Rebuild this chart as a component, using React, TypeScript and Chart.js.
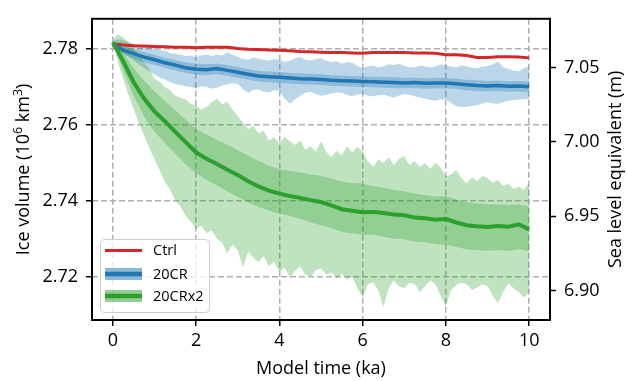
import React, { useEffect, useRef } from 'react';
import { Chart, registerables } from 'chart.js';

Chart.register(...registerables);

// ---------- data ----------
const time = [0, 0.25, 0.5, 0.75, 1, 1.25, 1.5, 1.75, 2, 2.25, 2.5, 2.75, 3, 3.25, 3.5, 3.75, 4, 4.25, 4.5, 4.75, 5,
  5.25, 5.5, 5.75, 6, 6.25, 6.5, 6.75, 7, 7.25, 7.5, 7.75, 8, 8.25, 8.5, 8.75, 9, 9.25, 9.5, 9.75, 10];

const timeFine = [0, 0.125, 0.25, 0.375, 0.5, 0.625, 0.75, 0.875, 1, 1.125, 1.25, 1.375, 1.5, 1.625, 1.75, 1.875,
  2, 2.125, 2.25, 2.375, 2.5, 2.625, 2.75, 2.875, 3, 3.125, 3.25, 3.375, 3.5, 3.625, 3.75, 3.875,
  4, 4.125, 4.25, 4.375, 4.5, 4.625, 4.75, 4.875, 5, 5.125, 5.25, 5.375, 5.5, 5.625, 5.75, 5.875,
  6, 6.125, 6.25, 6.375, 6.5, 6.625, 6.75, 6.875, 7, 7.125, 7.25, 7.375, 7.5, 7.625, 7.75, 7.875,
  8, 8.125, 8.25, 8.375, 8.5, 8.625, 8.75, 8.875, 9, 9.125, 9.25, 9.375, 9.5, 9.625, 9.75, 9.875, 10];

const ctrl = [2.7814, 2.7811, 2.7809, 2.7808, 2.7807, 2.7806, 2.7805, 2.7805, 2.7804, 2.7805, 2.7805, 2.7805, 2.7802,
  2.7800, 2.7799, 2.7798, 2.7797, 2.7796, 2.7794, 2.7793, 2.7792, 2.7791, 2.7791, 2.7790, 2.7789, 2.7791, 2.7791,
  2.7791, 2.7791, 2.7790, 2.7790, 2.7789, 2.7785, 2.7785, 2.7783, 2.7778, 2.7778, 2.7780, 2.7780, 2.7779, 2.7777];

const cr20Mean = [2.7815, 2.7797, 2.7788, 2.7779, 2.7772, 2.7764, 2.7758, 2.7751, 2.7747, 2.7746, 2.7749, 2.7744,
  2.7739, 2.7734, 2.7729, 2.7727, 2.7726, 2.7724, 2.7722, 2.7721, 2.7720, 2.7718, 2.7717, 2.7716, 2.7715, 2.7714,
  2.7713, 2.7712, 2.7711, 2.7712, 2.7710, 2.7711, 2.7711, 2.7709, 2.7706, 2.7704, 2.7703, 2.7704, 2.7702, 2.7703, 2.7701];
const cr20InnerHi = [2.7817, 2.7808, 2.7801, 2.7793, 2.7786, 2.7778, 2.7772, 2.7766, 2.7762, 2.7761, 2.7763, 2.7759,
  2.7754, 2.7748, 2.7744, 2.7742, 2.7741, 2.7738, 2.7737, 2.7735, 2.7735, 2.7732, 2.7731, 2.7730, 2.7729, 2.7728,
  2.7727, 2.7727, 2.7725, 2.7726, 2.7724, 2.7725, 2.7725, 2.7723, 2.7720, 2.7719, 2.7717, 2.7718, 2.7716, 2.7717, 2.7715];
const cr20InnerLo = [2.7813, 2.7787, 2.7775, 2.7765, 2.7758, 2.7750, 2.7744, 2.7737, 2.7732, 2.7731, 2.7734, 2.7729,
  2.7724, 2.7719, 2.7714, 2.7712, 2.7711, 2.7709, 2.7707, 2.7706, 2.7705, 2.7703, 2.7702, 2.7701, 2.7700, 2.7699,
  2.7698, 2.7697, 2.7696, 2.7697, 2.7695, 2.7696, 2.7696, 2.7694, 2.7691, 2.7689, 2.7688, 2.7689, 2.7687, 2.7688, 2.7686];
const cr20Max = [2.7820, 2.7826, 2.7824, 2.7818, 2.7814, 2.7812, 2.7808, 2.7806, 2.7803, 2.7798, 2.7796, 2.7790,
  2.7788, 2.7786, 2.7782, 2.7783, 2.7779, 2.7784, 2.7786, 2.7782, 2.7786, 2.7783, 2.7792, 2.7785, 2.7780, 2.7775,
  2.7772, 2.7778, 2.7775, 2.7772, 2.7770, 2.7774, 2.7772, 2.7767, 2.7770, 2.7776, 2.7780, 2.7772, 2.7770, 2.7774,
  2.7776, 2.7770, 2.7766, 2.7768, 2.7762, 2.7766, 2.7764, 2.7756, 2.7750, 2.7755, 2.7757, 2.7752, 2.7755, 2.7760,
  2.7758, 2.7762, 2.7756, 2.7753, 2.7752, 2.7757, 2.7755, 2.7752, 2.7755, 2.7760, 2.7758, 2.7754, 2.7752, 2.7757,
  2.7755, 2.7751, 2.7750, 2.7754, 2.7756, 2.7760, 2.7768, 2.7752, 2.7748, 2.7744, 2.7742, 2.7750, 2.7755];
const cr20Min = [2.7812, 2.7800, 2.7790, 2.7780, 2.7770, 2.7760, 2.7750, 2.7742, 2.7733, 2.7726, 2.7720, 2.7713,
  2.7708, 2.7705, 2.7702, 2.7700, 2.7697, 2.7702, 2.7700, 2.7696, 2.7698, 2.7704, 2.7707, 2.7710, 2.7708, 2.7695,
  2.7685, 2.7692, 2.7694, 2.7688, 2.7686, 2.7692, 2.7690, 2.7670, 2.7656, 2.7668, 2.7677, 2.7685, 2.7688, 2.7682,
  2.7677, 2.7680, 2.7683, 2.7686, 2.7685, 2.7680, 2.7676, 2.7680, 2.7682, 2.7678, 2.7675, 2.7679, 2.7680, 2.7676,
  2.7672, 2.7678, 2.7682, 2.7680, 2.7676, 2.7672, 2.7670, 2.7666, 2.7664, 2.7667, 2.7668, 2.7658, 2.7650, 2.7647,
  2.7648, 2.7651, 2.7652, 2.7657, 2.7660, 2.7657, 2.7656, 2.7660, 2.7664, 2.7666, 2.7667, 2.7668, 2.7669];

const cr20x2Mean = [2.7818, 2.7768, 2.7713, 2.7670, 2.7636, 2.7610, 2.7582, 2.7555, 2.7528, 2.7511, 2.7497, 2.7482,
  2.7468, 2.7452, 2.7438, 2.7427, 2.7419, 2.7413, 2.7408, 2.7402, 2.7397, 2.7388, 2.7378, 2.7374, 2.7370, 2.7371,
  2.7368, 2.7364, 2.7362, 2.7356, 2.7354, 2.7350, 2.7352, 2.7343, 2.7336, 2.7333, 2.7331, 2.7334, 2.7332, 2.7338, 2.7325];
const cr20x2InnerHi = [2.7820, 2.7792, 2.7750, 2.7718, 2.7690, 2.7664, 2.7640, 2.7615, 2.7590, 2.7576, 2.7562, 2.7549,
  2.7535, 2.7520, 2.7506, 2.7494, 2.7484, 2.7480, 2.7476, 2.7470, 2.7467, 2.7460, 2.7452, 2.7448, 2.7446, 2.7440,
  2.7436, 2.7430, 2.7426, 2.7420, 2.7416, 2.7413, 2.7413, 2.7405, 2.7398, 2.7394, 2.7392, 2.7392, 2.7390, 2.7392, 2.7386];
const cr20x2InnerLo = [2.7816, 2.7742, 2.7676, 2.7622, 2.7582, 2.7552, 2.7524, 2.7496, 2.7472, 2.7455, 2.7440, 2.7425,
  2.7410, 2.7396, 2.7384, 2.7374, 2.7366, 2.7360, 2.7352, 2.7343, 2.7335, 2.7328, 2.7318, 2.7314, 2.7310, 2.7311,
  2.7305, 2.7300, 2.7298, 2.7292, 2.7290, 2.7286, 2.7284, 2.7278, 2.7272, 2.7270, 2.7268, 2.7270, 2.7268, 2.7272, 2.7267];
const cr20x2Max = [2.7825, 2.7840, 2.7830, 2.7820, 2.7802, 2.7790, 2.7768, 2.7748, 2.7722, 2.7715, 2.7700, 2.7692,
  2.7677, 2.7672, 2.7668, 2.7656, 2.7652, 2.7640, 2.7648, 2.7660, 2.7670, 2.7655, 2.7662, 2.7640, 2.7625, 2.7605,
  2.7590, 2.7598, 2.7578, 2.7585, 2.7560, 2.7568, 2.7552, 2.7570, 2.7558, 2.7548, 2.7560, 2.7535, 2.7545, 2.7530,
  2.7558, 2.7530, 2.7515, 2.7532, 2.7520, 2.7545, 2.7528, 2.7542, 2.7530, 2.7505, 2.7490, 2.7510, 2.7500, 2.7515,
  2.7495, 2.7512, 2.7518, 2.7495, 2.7505, 2.7490, 2.7500, 2.7485, 2.7502, 2.7488, 2.7465, 2.7470, 2.7482, 2.7460,
  2.7446, 2.7462, 2.7452, 2.7466, 2.7460, 2.7448, 2.7455, 2.7440, 2.7445, 2.7432, 2.7438, 2.7430, 2.7448];
const cr20x2Min = [2.7818, 2.7765, 2.7722, 2.7680, 2.7642, 2.7605, 2.7572, 2.7540, 2.7510, 2.7482, 2.7450, 2.7430,
  2.7402, 2.7385, 2.7360, 2.7345, 2.7325, 2.7335, 2.7315, 2.7322, 2.7300, 2.7290, 2.7262, 2.7285, 2.7270, 2.7225,
  2.7265, 2.7250, 2.7238, 2.7255, 2.7228, 2.7240, 2.7212, 2.7225, 2.7198, 2.7215, 2.7228, 2.7205, 2.7198, 2.7218,
  2.7222, 2.7205, 2.7212, 2.7195, 2.7208, 2.7192, 2.7200, 2.7170, 2.7146, 2.7180, 2.7185, 2.7165, 2.7120, 2.7170,
  2.7190, 2.7175, 2.7170, 2.7185, 2.7180, 2.7160, 2.7175, 2.7190, 2.7180, 2.7150, 2.7122, 2.7165, 2.7178, 2.7185,
  2.7180, 2.7165, 2.7172, 2.7180, 2.7175, 2.7150, 2.7130, 2.7160, 2.7182, 2.7170, 2.7160, 2.7145, 2.7160];

const xTicks = [0, 2, 4, 6, 8, 10];
const leftTicks = [2.72, 2.74, 2.76, 2.78];
const rightTicks = [6.9, 6.95, 7.0, 7.05];
const seriesLabels = ['Ctrl', '20CR', '20CRx2'];

// ---------- style ----------
const FONT = "'Open Sans', sans-serif";
const RED = '#d62728';
const BLUE = '#1f77b4';
const GREEN = '#2ca02c';
const BLUE_A = 'rgba(31,119,180,0.3)';
const GREEN_A = 'rgba(44,160,44,0.3)';
const EDGE = 'rgba(255,255,255,0.3)';
const GRID = '#b0b0b0';

const pts = (xs: number[], arr: number[]) => xs.map((t, i) => ({ x: t, y: arr[i] }));

const lineDs = (label: string, arr: number[], color: string, width: number) => ({
  label, data: pts(time, arr), borderColor: color, borderWidth: width, pointRadius: 0, fill: false,
  xAxisID: 'x', yAxisID: 'y',
});
const bandHi = (xs: number[], arr: number[], color: string) => ({
  label: '', data: pts(xs, arr), borderColor: EDGE, borderWidth: 0.7, backgroundColor: color, fill: '+1',
  pointRadius: 0, xAxisID: 'x', yAxisID: 'y',
});
const bandLo = (xs: number[], arr: number[]) => ({
  label: '', data: pts(xs, arr), borderColor: EDGE, borderWidth: 0.7, fill: false, pointRadius: 0,
  xAxisID: 'x', yAxisID: 'y',
});

function drawRotatedRich(ctx: CanvasRenderingContext2D, parts: { t: string; sup?: boolean }[], bx: number, cy: number) {
  ctx.save();
  ctx.translate(bx, cy);
  ctx.rotate(-Math.PI / 2);
  ctx.textBaseline = 'alphabetic';
  ctx.textAlign = 'left';
  const fontN = `18px ${FONT}`;
  const fontS = `12.5px ${FONT}`;
  let total = 0;
  for (const p of parts) {
    ctx.font = p.sup ? fontS : fontN;
    total += ctx.measureText(p.t).width;
  }
  let x = -total / 2;
  for (const p of parts) {
    ctx.font = p.sup ? fontS : fontN;
    ctx.fillText(p.t, x, p.sup ? -7 : 0);
    x += ctx.measureText(p.t).width;
  }
  ctx.restore();
}

const overlayPlugin = {
  id: 'overlay',
  afterDraw(chart: any) {
    const { ctx, chartArea: a } = chart;
    ctx.save();
    ctx.strokeStyle = '#000';
    ctx.lineWidth = 2;
    ctx.strokeRect(a.left, a.top, a.right - a.left, a.bottom - a.top);

    ctx.fillStyle = '#000';
    ctx.font = `18px ${FONT}`;
    ctx.textAlign = 'center';
    ctx.textBaseline = 'alphabetic';
    ctx.fillText('Model time (ka)', (a.left + a.right) / 2, 374);
    const cy = (a.top + a.bottom) / 2;
    drawRotatedRich(ctx, [{ t: 'Ice volume (10' }, { t: '6', sup: true }, { t: ' km' }, { t: '3', sup: true }, { t: ')' }], 28.5, cy);
    drawRotatedRich(ctx, [{ t: 'Sea level equivalent (m)' }], 621, cy);

    // legend
    const lx = 100, ly = 239, lw = 109, lh = 73;
    ctx.beginPath();
    (ctx as any).roundRect(lx + 0.5, ly + 0.5, lw, lh, 4);
    ctx.fillStyle = 'rgba(255,255,255,0.8)';
    ctx.fill();
    ctx.strokeStyle = '#cccccc';
    ctx.lineWidth = 1;
    ctx.stroke();

    const hx0 = 105, hx1 = 142, tx = 153;
    const rows = [250.5, 274, 296];
    ctx.strokeStyle = RED;
    ctx.lineWidth = 3;
    ctx.beginPath(); ctx.moveTo(hx0, rows[0]); ctx.lineTo(hx1, rows[0]); ctx.stroke();
    ctx.fillStyle = BLUE_A;
    ctx.fillRect(hx0, rows[1] - 6, hx1 - hx0, 12);
    ctx.fillRect(hx0, rows[1] - 6, hx1 - hx0, 12);
    ctx.strokeStyle = BLUE; ctx.lineWidth = 4.5;
    ctx.beginPath(); ctx.moveTo(hx0, rows[1]); ctx.lineTo(hx1, rows[1]); ctx.stroke();
    ctx.fillStyle = GREEN_A;
    ctx.fillRect(hx0, rows[2] - 6, hx1 - hx0, 12);
    ctx.fillRect(hx0, rows[2] - 6, hx1 - hx0, 12);
    ctx.strokeStyle = GREEN; ctx.lineWidth = 4.5;
    ctx.beginPath(); ctx.moveTo(hx0, rows[2]); ctx.lineTo(hx1, rows[2]); ctx.stroke();

    ctx.fillStyle = '#000';
    ctx.font = `14.5px ${FONT}`;
    ctx.textAlign = 'left';
    ctx.textBaseline = 'middle';
    seriesLabels.forEach((s, i) => ctx.fillText(s, tx, rows[i] + 0.5));
    ctx.restore();
  },
};

export default function App() {
  const ref = useRef<HTMLCanvasElement>(null);
  useEffect(() => {
    document.body.style.margin = '0';
    const canvas = ref.current!;
    const tickFont = { family: FONT, size: 18 };
    const chart = new Chart(canvas, {
      type: 'line',
      data: {
        datasets: [
          lineDs(seriesLabels[2], cr20x2Mean, GREEN, 4),
          lineDs(seriesLabels[1], cr20Mean, BLUE, 3.5),
          lineDs(seriesLabels[0], ctrl, RED, 3),
          bandHi(time, cr20x2InnerHi, GREEN_A),
          bandLo(time, cr20x2InnerLo),
          bandHi(timeFine, cr20x2Max, GREEN_A),
          bandLo(timeFine, cr20x2Min),
          bandHi(time, cr20InnerHi, BLUE_A),
          bandLo(time, cr20InnerLo),
          bandHi(timeFine, cr20Max, BLUE_A),
          bandLo(timeFine, cr20Min),
        ] as any,
      },
      options: {
        animation: false,
        responsive: false,
        maintainAspectRatio: false,
        layout: { padding: { top: 11, left: 0, right: 0, bottom: 0 } },
        elements: { line: { tension: 0 } },
        plugins: { legend: { display: false }, tooltip: { enabled: false } },
        scales: {
          x: {
            type: 'linear', position: 'bottom', min: -0.5, max: 10.5, z: 1,
            afterBuildTicks: (s: any) => { s.ticks = xTicks.map((v) => ({ value: v })); },
            afterFit: (s: any) => { s.height = 61; },
            ticks: { font: tickFont, color: '#000', padding: 4, maxRotation: 0, autoSkip: false, callback: (v: any) => String(v) },
            grid: { color: GRID, lineWidth: 1.5, tickColor: '#000', tickLength: 6, tickWidth: 1.5, drawTicks: true },
            border: { display: false, dash: [6, 3] },
          },
          y: {
            type: 'linear', position: 'left', min: 2.7086, max: 2.7880, z: 1,
            afterBuildTicks: (s: any) => { s.ticks = leftTicks.map((v) => ({ value: v })); },
            afterFit: (s: any) => { s.width = 92; },
            ticks: { font: tickFont, color: '#000', padding: 8, autoSkip: false, callback: (v: any) => Number(v).toFixed(2) },
            grid: { color: GRID, lineWidth: 1.5, tickColor: '#000', tickLength: 6, tickWidth: 1.5, drawTicks: true },
            border: { display: false, dash: [6, 3] },
          },
          y2: {
            type: 'linear', position: 'right', min: 6.88035, max: 7.08275,
            afterBuildTicks: (s: any) => { s.ticks = rightTicks.map((v) => ({ value: v })); },
            afterFit: (s: any) => { s.width = 77; },
            ticks: { font: tickFont, color: '#000', padding: 8, autoSkip: false, callback: (v: any) => Number(v).toFixed(2) },
            grid: { drawOnChartArea: false, tickColor: '#000', tickLength: 6, tickWidth: 1.5, drawTicks: true },
            border: { display: false },
          },
        },
      } as any,
      plugins: [overlayPlugin],
    });
    return () => chart.destroy();
  }, []);
  return (
    <div style={{ width: 627, height: 381 }}>
      <canvas ref={ref} width={627} height={381} style={{ display: 'block', width: 627, height: 381 }} />
    </div>
  );
}
